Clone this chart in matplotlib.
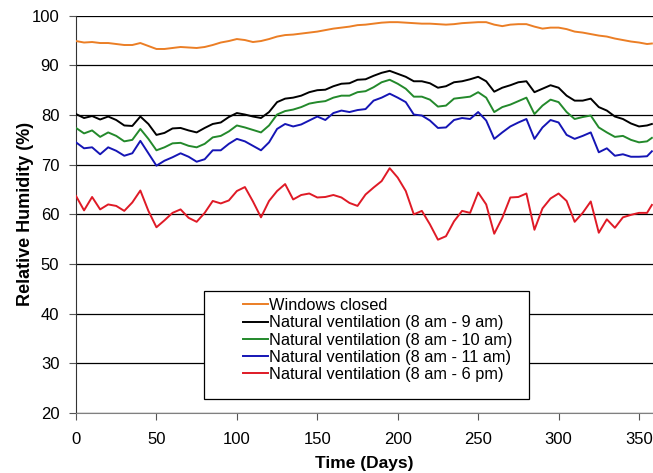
import numpy as np
import matplotlib.pyplot as plt
from matplotlib.patches import Rectangle

plt.rcParams['font.family'] = ['Liberation Sans', 'DejaVu Sans']

days = list(range(0, 360, 5)) + [358]

windows_closed = [94.9, 94.6, 94.7, 94.5, 94.5, 94.3, 94.1, 94.1, 94.5, 93.9, 93.3, 93.3, 93.5, 93.7, 93.6, 93.5, 93.7, 94.1,
                  94.6, 94.9, 95.3, 95.1, 94.7, 94.9, 95.3, 95.8, 96.1, 96.2, 96.4, 96.6, 96.8, 97.1, 97.4, 97.6, 97.8, 98.1,
                  98.2, 98.4, 98.6, 98.7, 98.7, 98.6, 98.5, 98.4, 98.4, 98.3, 98.2, 98.3, 98.5, 98.6, 98.7, 98.7, 98.2, 97.9,
                  98.2, 98.3, 98.3, 97.8, 97.4, 97.6, 97.6, 97.3, 96.8, 96.6, 96.3, 96.0, 95.8, 95.4, 95.1, 94.8, 94.6, 94.3, 94.4]

nv_9am = [80.2, 79.4, 79.8, 79.1, 79.7, 79.0, 77.9, 77.8, 79.7, 78.2, 76.0, 76.4, 77.3, 77.4, 76.9, 76.5, 77.4, 78.2,
          78.5, 79.6, 80.4, 80.1, 79.7, 79.4, 80.6, 82.6, 83.3, 83.5, 83.9, 84.6, 85.0, 85.1, 85.8, 86.3, 86.4, 87.1,
          87.2, 87.9, 88.5, 88.9, 88.3, 87.7, 86.8, 86.8, 86.4, 85.5, 85.8, 86.6, 86.8, 87.2, 87.7, 86.8, 84.7, 85.5,
          86.0, 86.6, 86.8, 84.6, 85.3, 86.0, 85.5, 83.9, 82.9, 82.9, 83.3, 81.6, 80.9, 79.7, 79.2, 78.3, 77.7, 77.9, 78.2]

nv_10am = [77.4, 76.3, 76.9, 75.6, 76.5, 75.8, 74.7, 75.0, 77.2, 75.2, 72.9, 73.5, 74.3, 74.4, 73.8, 73.5, 74.2, 75.5,
           75.8, 76.7, 77.9, 77.5, 77.0, 76.5, 77.9, 80.1, 80.8, 81.1, 81.6, 82.3, 82.6, 82.8, 83.5, 83.9, 83.9, 84.6,
           84.8, 85.6, 86.6, 87.1, 86.3, 85.3, 83.7, 83.7, 83.1, 81.7, 81.9, 83.3, 83.5, 83.7, 84.6, 83.5, 80.6, 81.6,
           82.1, 82.8, 83.5, 80.2, 81.9, 83.1, 82.6, 80.6, 79.2, 79.6, 79.9, 77.5, 76.5, 75.6, 75.8, 75.0, 74.5, 74.7, 75.4]

nv_11am = [74.5, 73.3, 73.5, 72.1, 73.5, 72.8, 71.8, 72.3, 74.8, 72.3, 69.8, 70.8, 71.5, 72.3, 71.6, 70.6, 71.1, 72.9,
           72.9, 74.2, 75.2, 74.7, 73.8, 72.9, 74.5, 77.2, 78.2, 77.7, 78.1, 78.9, 79.7, 79.0, 80.4, 80.9, 80.6, 81.0,
           81.2, 82.9, 83.5, 84.3, 83.5, 82.6, 80.1, 79.9, 78.9, 77.4, 77.5, 79.0, 79.4, 79.2, 80.6, 78.9, 75.2, 76.5,
           77.7, 78.5, 79.2, 75.2, 77.5, 79.0, 78.5, 76.0, 75.2, 75.8, 76.5, 72.5, 73.3, 71.8, 72.1, 71.6, 71.6, 71.7, 72.7]

nv_6pm = [63.7, 60.8, 63.5, 61.0, 62.0, 61.7, 60.7, 62.4, 64.8, 60.7, 57.4, 58.8, 60.3, 61.0, 59.3, 58.5, 60.3, 62.7,
          62.2, 62.8, 64.7, 65.5, 62.6, 59.4, 62.7, 64.7, 66.1, 63.0, 63.9, 64.2, 63.4, 63.5, 63.9, 63.4, 62.3, 61.7,
          64.0, 65.4, 66.7, 69.3, 67.4, 64.7, 60.0, 60.7, 58.0, 54.9, 55.6, 58.6, 60.7, 60.3, 64.4, 62.0, 56.1, 59.3,
          63.4, 63.5, 64.2, 56.9, 61.2, 63.2, 64.2, 62.7, 58.5, 60.3, 62.6, 56.3, 59.0, 57.3, 59.4, 59.9, 60.3, 60.3, 61.9]

labels = ['Windows closed',
          'Natural ventilation (8 am - 9 am)',
          'Natural ventilation (8 am - 10 am)',
          'Natural ventilation (8 am - 11 am)',
          'Natural ventilation (8 am - 6 pm)']
colors = ['#EB7E25', '#000000', '#23892B', '#1515B5', '#DF1A26']

fig = plt.figure(figsize=(6.53, 4.73), dpi=100)
ax = fig.add_axes([0.1164, 0.1268, 0.8836, 0.84])

for y, lab, c in zip([windows_closed, nv_9am, nv_10am, nv_11am, nv_6pm], labels, colors):
    ax.plot(days, y, color=c, lw=1.4, label=lab, zorder=3)

ax.set_xlim(0, 358.7)
ax.set_ylim(20, 100)
ax.set_xticks(np.arange(0, 351, 50))
ax.set_yticks(np.arange(20, 101, 10))
ax.yaxis.grid(True, color='black', lw=0.9)
ax.set_axisbelow(True)
for s in ['top', 'right']:
    ax.spines[s].set_visible(False)
ax.spines['left'].set_color('#333333')
ax.spines['bottom'].set_color('#808080')
ax.tick_params(axis='both', labelsize=12, length=5, color='#555555')
ax.tick_params(axis='y', pad=7)
ax.tick_params(axis='x', pad=9)

ax.set_xlabel('Time (Days)', fontsize=12.5, fontweight='bold', labelpad=6)
ax.set_ylabel('Relative Humidity (%)', fontsize=13, fontweight='bold', labelpad=-2)

# legend box
ax.add_patch(Rectangle((0.2218, 0.035), 0.563, 0.272, transform=ax.transAxes,
                       facecolor='white', edgecolor='black', lw=0.9, zorder=4))
leg = ax.legend(loc='upper left', bbox_to_anchor=(0.2894, 0.2895), frameon=False,
                fontsize=11.8, borderpad=0, borderaxespad=0, labelspacing=0.14,
                handlelength=1.5, handletextpad=0.1)
leg.set_zorder(5)

plt.savefig('out.png', dpi=100)
